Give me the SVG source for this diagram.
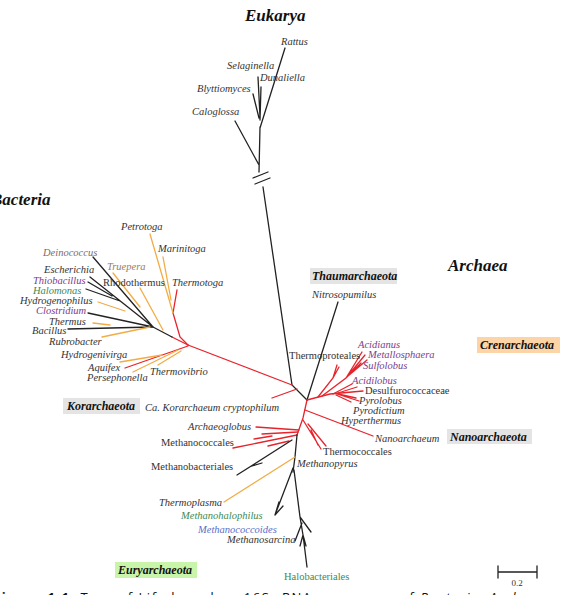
<svg xmlns="http://www.w3.org/2000/svg" width="568" height="595" viewBox="0 0 568 595">
<style>
.k{stroke:#222;fill:none;stroke-width:1.3;stroke-linecap:round}
.r{stroke:#e8232b;fill:none;stroke-width:1.3;stroke-linecap:round}
.o{stroke:#f2ac45;fill:none;stroke-width:1.3;stroke-linecap:round}
text{font-family:"Liberation Serif","DejaVu Serif",serif;fill:#333}
.i{font-size:10.5px;font-style:italic}
.n{font-size:10.5px}
.t{font-size:17px;font-style:italic;font-weight:bold;fill:#111}
.c{font-size:12px;font-style:italic;font-weight:bold;fill:#111}
.pu{fill:#7b3d8e}
.gr{fill:#3d8a52}
.bl{fill:#5a6fc9}
.gb{fill:#e4e4e4}
</style>
<rect width="568" height="595" fill="#fff"/>

<g id="connectors">
  <!-- Eukarya -->
  <path class="k" d="M259,172 L260,127 M235,121 L259,165 M285,48 L260,128 M258,77 L260,117 M261,87 L260,120 M253,94 L259,118"/>
  <path class="k" d="M253,178 L268,172 M255,184 L270,178"/>
  <path class="k" d="M263,187 L292,385 L307,400"/>
  <!-- Thaumarchaeota -->
  <path class="k" d="M338,302 L307,400"/>
  <!-- Korarchaeota -->
  <path class="r" d="M272,398 L297,389"/>
  <!-- Bacteria main -->
  <path class="r" d="M292,385 L188,345"/>
  <path class="r" d="M188,345 L172,337"/>
  <path class="k" d="M172,337 L153,327"/>
  <path class="r" d="M188,345 L180,337 L173,313 L177,290"/>
  <path class="o" d="M150,234 L173,313 M163,257 L171,300"/>
  <path class="k" d="M93,257 L153,327 M90,277 L153,327 M86,289 L120,301 M88,282 L112,296 M88,313 L153,327 M68,329 L153,327"/>
  <path class="o" d="M113,273 L140,307 M140,288 L163,330 M98,302 L125,311 M93,323 L110,325 M102,337 L150,327"/>
  <!-- Aquificae -->
  <path class="r" d="M125,368 L188,346"/>
  <path class="o" d="M120,362 L162,355 M133,372 L178,350 M158,365 L181,351"/>
  <!-- Crenarchaeota -->
  <path class="r" d="M307,400 L330,394 L363,391"/>
  <path class="r" d="M322,396 L346,378 L362,352 M346,378 L365,355 M348,376 L367,360 M346,378 L361,363"/>
  <path class="r" d="M318,397 L333,378 L337,365 M333,378 L339,367"/>
  <path class="r" d="M333,394 L352,384 M338,393 L357,387 M338,394 L356,398 M337,394 L359,401 M336,395 L351,402"/>
  <!-- Nanoarchaeota -->
  <path class="r" d="M305,410 L373,436"/>
  <!-- Euryarchaeota -->
  <path class="r" d="M307,400 L303,418 L297,435"/>
  <path class="r" d="M303,420 L321,449 M308,424 L326,446 M311,430 L318,445"/>
  <path class="r" d="M256,427 L299,430 M262,434 L298,432 M233,448 L297,435 M268,446 L289,441 M254,439 L272,436"/>
  <path class="k" d="M237,475 L292,440 M252,466 L262,463"/>
  <path class="k" d="M297,435 L295,457 L293,472"/>
  <path class="o" d="M224,502 L295,457"/>
  <path class="k" d="M293,468 L275,515 L279,502 M275,515 L283,506"/>
  <path class="k" d="M294,470 L300,517 L311,532 M300,517 L303,535 L307,567 M302,523 L295,541 M303,535 L300,546 M303,535 L306,546"/>
  <!-- scale bar -->
  <path class="k" d="M498,572 L537,572 M498,566 L498,578 M537,566 L537,578"/>
</g>

<!-- Titles -->
<g id="eukarya-title"><text class="t" x="245" y="21">Eukarya</text></g>
<g id="bacteria-title"><text class="t" x="-9" y="205">Bacteria</text></g>
<g id="archaea-title"><text class="t" x="448" y="271">Archaea</text></g>

<!-- Eukarya leaves -->
<g id="rattus"><text class="i" x="281" y="45">Rattus</text></g>
<g id="selaginella"><text class="i" x="227" y="69">Selaginella</text></g>
<g id="dunaliella"><text class="i" x="260" y="81">Dunaliella</text></g>
<g id="blyttiomyces"><text class="i" x="197" y="92">Blyttiomyces</text></g>
<g id="caloglossa"><text class="i" x="192" y="115">Caloglossa</text></g>

<!-- Bacteria leaves -->
<g id="petrotoga"><text class="i" x="121" y="230">Petrotoga</text></g>
<g id="marinitoga"><text class="i" x="158" y="252">Marinitoga</text></g>
<g id="deinococcus"><text class="i" x="43" y="256" style="fill:#7e6a6a">Deinococcus</text></g>
<g id="truepera"><text class="i" x="107" y="270" style="fill:#9c7b5c">Truepera</text></g>
<g id="escherichia"><text class="i" x="44" y="273">Escherichia</text></g>
<g id="thiobacillus"><text class="i pu" x="33" y="284">Thiobacillus</text></g>
<g id="rhodothermus"><text class="n" x="103" y="286">Rhodothermus</text></g>
<g id="thermotoga"><text class="i" x="172" y="286">Thermotoga</text></g>
<g id="halomonas"><text class="i gr" x="33" y="294">Halomonas</text></g>
<g id="hydrogenophilus"><text class="i" x="20" y="304">Hydrogenophilus</text></g>
<g id="clostridium"><text class="i pu" x="36" y="314">Clostridium</text></g>
<g id="thermus"><text class="i" x="49" y="325">Thermus</text></g>
<g id="bacillus"><text class="i" x="32" y="334">Bacillus</text></g>
<g id="rubrobacter"><text class="i" x="49" y="345">Rubrobacter</text></g>
<g id="hydrogenivirga"><text class="i" x="61" y="358">Hydrogenivirga</text></g>
<g id="aquifex"><text class="i" x="88" y="371">Aquifex</text></g>
<g id="thermovibrio"><text class="i" x="150" y="375">Thermovibrio</text></g>
<g id="persephonella"><text class="i" x="87" y="381">Persephonella</text></g>

<!-- Groups -->
<g id="thaumarchaeota"><rect class="gb" x="310" y="268" width="87" height="16"/><text class="c" x="312" y="280">Thaumarchaeota</text></g>
<g id="nitrosopumilus"><text class="i" x="312" y="298">Nitrosopumilus</text></g>
<g id="crenarchaeota"><rect x="477" y="337" width="83" height="16" fill="#fcd4a6"/><text class="c" x="480" y="349">Crenarchaeota</text></g>
<g id="korarchaeota"><rect class="gb" x="63" y="398" width="77" height="16"/><text class="c" x="67" y="410">Korarchaeota</text></g>
<g id="korarchaeum"><text class="i" x="145" y="411">Ca. Korarchaeum cryptophilum</text></g>
<g id="nanoarchaeota"><rect class="gb" x="447" y="429" width="85" height="15"/><text class="c" x="450" y="441">Nanoarchaeota</text></g>
<g id="euryarchaeota"><rect x="115" y="562" width="82" height="16" fill="#c9f5aa"/><text class="c" x="118" y="574">Euryarchaeota</text></g>

<!-- Crenarchaeota leaves -->
<g id="thermoproteales"><text class="n" x="289" y="359">Thermoproteales</text></g>
<g id="acidianus"><text class="i pu" x="358" y="348">Acidianus</text></g>
<g id="metallosphaera"><text class="i pu" x="368" y="358">Metallosphaera</text></g>
<g id="sulfolobus"><text class="i pu" x="363" y="369">Sulfolobus</text></g>
<g id="acidilobus"><text class="i pu" x="352" y="384">Acidilobus</text></g>
<g id="desulfurococcaceae"><text class="n" x="365" y="394">Desulfurococcaceae</text></g>
<g id="pyrolobus"><text class="i" x="359" y="404">Pyrolobus</text></g>
<g id="pyrodictium"><text class="i" x="353" y="414">Pyrodictium</text></g>
<g id="hyperthermus"><text class="i" x="341" y="424">Hyperthermus</text></g>
<g id="nanoarchaeum"><text class="i" x="375" y="442">Nanoarchaeum</text></g>

<!-- Euryarchaeota leaves -->
<g id="archaeoglobus"><text class="i" x="188" y="430">Archaeoglobus</text></g>
<g id="methanococcales"><text class="n" x="161" y="446">Methanococcales</text></g>
<g id="thermococcales"><text class="n" x="323" y="455">Thermococcales</text></g>
<g id="methanopyrus"><text class="i" x="297" y="467">Methanopyrus</text></g>
<g id="methanobacteriales"><text class="n" x="151" y="470">Methanobacteriales</text></g>
<g id="thermoplasma"><text class="i" x="159" y="506">Thermoplasma</text></g>
<g id="methanohalophilus"><text class="i gr" x="181" y="519">Methanohalophilus</text></g>
<g id="methanococcoides"><text class="i bl" x="198" y="533">Methanococcoides</text></g>
<g id="methanosarcina"><text class="i" x="227" y="543">Methanosarcina</text></g>
<g id="halobacteriales"><text class="n gr" x="284" y="580">Halobacteriales</text></g>

<g id="scale"><text x="517" y="586" font-size="9" text-anchor="middle">0.2</text></g>

<g id="caption"><text x="-7" y="602" textLength="585" lengthAdjust="spacing" style="font-family:'Open Sans','DejaVu Sans',sans-serif;font-size:13px;fill:#111"><tspan font-weight="bold">Figure 1.1:</tspan> Tree of Life based on 16S rRNA sequences of <tspan font-style="italic">Bacteria</tspan>, <tspan font-style="italic">Archaea</tspan> and</text></g>
</svg>
